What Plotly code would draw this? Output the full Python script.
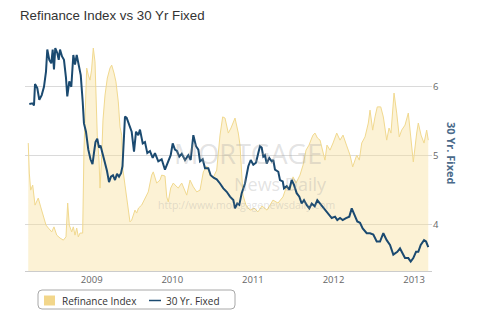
import plotly.graph_objects as go

# ---- data (decimal years) ----
rate_years = [
    2008.226, 2008.268, 2008.284, 2008.297, 2008.325, 2008.350, 2008.380, 2008.408, 2008.433, 2008.449,
    2008.474, 2008.499, 2008.516, 2008.532, 2008.548, 2008.573, 2008.591, 2008.607, 2008.632, 2008.656,
    2008.681, 2008.697, 2008.722, 2008.747, 2008.772, 2008.793, 2008.814, 2008.839, 2008.864, 2008.888,
    2008.904, 2008.929, 2008.958, 2008.985, 2009.010, 2009.029, 2009.047, 2009.069, 2009.091, 2009.109,
    2009.134, 2009.153, 2009.190, 2009.215, 2009.239, 2009.264, 2009.289, 2009.314, 2009.339, 2009.364,
    2009.382, 2009.401, 2009.413, 2009.434, 2009.466, 2009.496, 2009.525, 2009.550, 2009.578, 2009.599,
    2009.633, 2009.661, 2009.690, 2009.723, 2009.757, 2009.785, 2009.826, 2009.868, 2009.909, 2009.950,
    2009.980, 2010.005, 2010.033, 2010.058, 2010.087, 2010.117, 2010.158, 2010.199, 2010.228, 2010.261,
    2010.294, 2010.323, 2010.344, 2010.377, 2010.406, 2010.447, 2010.476, 2010.517, 2010.551, 2010.592,
    2010.633, 2010.675, 2010.716, 2010.757, 2010.778, 2010.806, 2010.831, 2010.861, 2010.902, 2010.943,
    2010.973, 2011.005, 2011.038, 2011.067, 2011.088, 2011.109, 2011.129, 2011.150, 2011.171, 2011.203,
    2011.233, 2011.253, 2011.274, 2011.315, 2011.336, 2011.370, 2011.386, 2011.419, 2011.452, 2011.481,
    2011.510, 2011.543, 2011.576, 2011.605, 2011.634, 2011.667, 2011.700, 2011.730, 2011.767, 2011.799,
    2011.833, 2011.873, 2011.916, 2011.948, 2011.978, 2012.019, 2012.047, 2012.081, 2012.114, 2012.155,
    2012.196, 2012.226, 2012.267, 2012.295, 2012.329, 2012.362, 2012.412, 2012.453, 2012.494, 2012.536,
    2012.577, 2012.618, 2012.660, 2012.701, 2012.742, 2012.792, 2012.825, 2012.859, 2012.887, 2012.928,
    2012.958, 2012.990, 2013.024, 2013.052, 2013.082, 2013.123, 2013.148, 2013.176,
]
rate_values = [
    5.75, 5.76, 5.73, 6.04, 5.98, 5.81, 5.88, 6.00, 6.22, 6.54,
    6.39, 6.34, 6.54, 6.25, 6.56, 6.49, 6.39, 6.54, 6.44, 6.39,
    6.13, 5.86, 6.08, 6.00, 6.46, 6.32, 6.46, 6.29, 6.17, 5.79,
    5.47, 5.35, 5.09, 4.95, 4.88, 5.05, 5.20, 5.25, 5.12, 5.15,
    5.02, 4.95, 4.78, 4.62, 4.70, 4.72, 4.65, 4.74, 4.70, 4.75,
    4.85, 5.20, 5.57, 5.55, 5.43, 5.35, 5.06, 5.35, 5.30, 5.38,
    5.18, 5.20, 5.04, 5.07, 4.97, 5.04, 4.92, 4.95, 4.80, 4.92,
    5.01, 5.18, 5.09, 5.07, 4.99, 5.03, 4.94, 5.01, 4.94, 5.30,
    5.14, 5.09, 4.92, 4.95, 4.82, 4.82, 4.72, 4.68, 4.66, 4.60,
    4.53, 4.48, 4.41, 4.36, 4.24, 4.31, 4.29, 4.46, 4.60, 4.85,
    4.94, 4.87, 4.90, 5.04, 5.14, 5.12, 4.99, 5.01, 4.89, 4.97,
    4.92, 4.94, 4.80, 4.77, 4.65, 4.63, 4.53, 4.56, 4.51, 4.65,
    4.58, 4.46, 4.41, 4.31, 4.36, 4.29, 4.24, 4.31, 4.27, 4.36,
    4.31, 4.24, 4.19, 4.14, 4.10, 4.12, 4.07, 4.10, 4.07, 4.10,
    4.12, 4.24, 4.12, 4.05, 4.03, 3.95, 3.88, 3.88, 3.86, 3.76,
    3.76, 3.88, 3.78, 3.71, 3.57, 3.61, 3.66, 3.57, 3.52, 3.52,
    3.47, 3.52, 3.61, 3.61, 3.71, 3.78, 3.76, 3.68,
]

refi_years = [
    2008.213, 2008.226, 2008.243, 2008.268, 2008.297, 2008.337, 2008.367, 2008.400, 2008.433, 2008.462,
    2008.504, 2008.532, 2008.566, 2008.607, 2008.648, 2008.681, 2008.702, 2008.722, 2008.752, 2008.772,
    2008.793, 2008.814, 2008.834, 2008.855, 2008.888, 2008.904, 2008.923, 2008.938, 2008.958, 2008.979,
    2008.998, 2009.020, 2009.041, 2009.053, 2009.069, 2009.091, 2009.103, 2009.122, 2009.140, 2009.165,
    2009.194, 2009.227, 2009.248, 2009.277, 2009.301, 2009.330, 2009.351, 2009.372, 2009.388, 2009.413,
    2009.438, 2009.454, 2009.475, 2009.496, 2009.512, 2009.537, 2009.558, 2009.581, 2009.620, 2009.661,
    2009.702, 2009.744, 2009.764, 2009.806, 2009.847, 2009.868, 2009.909, 2009.931, 2009.950, 2009.980,
    2010.012, 2010.046, 2010.074, 2010.117, 2010.158, 2010.179, 2010.220, 2010.261, 2010.303, 2010.344,
    2010.385, 2010.427, 2010.468, 2010.505, 2010.551, 2010.592, 2010.625, 2010.654, 2010.695, 2010.728,
    2010.778, 2010.819, 2010.840, 2010.877, 2010.914, 2010.964, 2011.014, 2011.063, 2011.113, 2011.175,
    2011.212, 2011.249, 2011.311, 2011.373, 2011.423, 2011.460, 2011.498, 2011.535, 2011.584, 2011.622,
    2011.659, 2011.696, 2011.730, 2011.746, 2011.770, 2011.801, 2011.833, 2011.870, 2011.894, 2011.919,
    2011.957, 2011.994, 2012.040, 2012.081, 2012.118, 2012.161, 2012.205, 2012.238, 2012.267, 2012.288,
    2012.320, 2012.350, 2012.391, 2012.432, 2012.453, 2012.486, 2012.515, 2012.543, 2012.586, 2012.618,
    2012.660, 2012.689, 2012.713, 2012.751, 2012.784, 2012.816, 2012.846, 2012.887, 2012.928, 2012.958,
    2012.990, 2013.032, 2013.052, 2013.086, 2013.123, 2013.156, 2013.176,
]
refi_values = [
    4350, 3330, 2750, 2920, 2240, 2480, 2180, 1840, 1560, 1460,
    1330, 1500, 1220, 1120, 1050, 1160, 2310, 1560, 1330, 1500,
    1220, 1460, 1160, 1290, 1290, 4110, 6150, 6900, 6660, 6490,
    6830, 7580, 7110, 5750, 4620, 3770, 2820, 3770, 5130, 5980,
    6560, 6900, 7000, 6730, 6430, 5750, 4900, 4620, 3430, 2920,
    2410, 2240, 1670, 1730, 1900, 2070, 1970, 2140, 2240, 2450,
    2690, 3260, 3370, 2990, 3090, 3260, 3230, 2520, 2350, 2820,
    2990, 2890, 2820, 2990, 2750, 2580, 3090, 2860, 2690, 2750,
    3370, 3570, 3260, 3160, 3430, 4620, 5240, 5200, 4690, 4860,
    5200, 4690, 4280, 2580, 2240, 2070, 2140, 2010, 2210, 2070,
    2240, 2410, 2310, 2520, 2920, 2750, 3200, 2990, 3260, 3600,
    4110, 4280, 4520, 4620, 4690, 4520, 4450, 4010, 3770, 4280,
    4110, 4350, 4690, 4450, 4620, 4280, 3940, 3540, 3770, 3940,
    3770, 4350, 4560, 5030, 5470, 4790, 5240, 5580, 5580, 5240,
    4450, 4860, 4690, 6050, 5370, 4560, 4790, 4960, 5370, 4560,
    3710, 4690, 5030, 4620, 4350, 4790, 4450,
]

year_ticks = [2009, 2010, 2011, 2012, 2013]
rate_ticks = [4, 5, 6]

TICK_FONT = dict(family="Open Sans", size=9.5, color="#666666")
NAVY = "#1b4a70"

fig = go.Figure()
# Refinance index on the (hidden) primary axis so it is drawn underneath
fig.add_trace(go.Scatter(
    x=refi_years, y=refi_values, yaxis="y", name="Refinance Index",
    mode="lines", fill="tozeroy",
    line=dict(color="#f1d98f", width=1),
    fillcolor="rgba(248, 222, 150, 0.40)", showlegend=False,
))
# 30 yr fixed on the visible right axis, drawn on top
fig.add_trace(go.Scatter(
    x=rate_years, y=rate_values, yaxis="y2", name="30 Yr. Fixed", mode="lines",
    line=dict(color=NAVY, width=2), showlegend=False,
))

# legend geometry helpers (paper coords)
def px_x(p):
    return (p - 25) / 407.0

def px_y(p):
    return (271 - p) / 236.0

x0, x1, top, bot = px_x(38), px_x(235), px_y(290), px_y(309)
rx, ry = 4 / 407.0, 4 / 236.0
box_path = (f"M{x0+rx},{top} L{x1-rx},{top} Q{x1},{top} {x1},{top-ry} "
            f"L{x1},{bot+ry} Q{x1},{bot} {x1-rx},{bot} L{x0+rx},{bot} "
            f"Q{x0},{bot} {x0},{bot+ry} L{x0},{top-ry} Q{x0},{top} {x0+rx},{top} Z")

shapes = [
    dict(type="path", xref="paper", yref="paper", path=box_path,
         line=dict(color="#a8a8a8", width=1), fillcolor="rgba(0,0,0,0)"),
    dict(type="rect", xref="paper", yref="paper",
         x0=px_x(44), x1=px_x(55), y0=px_y(305.5), y1=px_y(295.5),
         line=dict(width=0), fillcolor="#f2d68a"),
    dict(type="line", xref="paper", yref="paper",
         x0=px_x(149), x1=px_x(161), y0=px_y(300.5), y1=px_y(300.5),
         line=dict(color=NAVY, width=1.5)),
]

WM = "rgba(160,160,160,0.30)"
annotations = [
    dict(text="Refinance Index", xref="paper", yref="paper", x=px_x(60), y=px_y(300.5),
         xanchor="left", yanchor="middle", showarrow=False,
         font=dict(family="Open Sans", size=10, color="#333333")),
    dict(text="30 Yr. Fixed", xref="paper", yref="paper", x=px_x(164), y=px_y(300.5),
         xanchor="left", yanchor="middle", showarrow=False,
         font=dict(family="Open Sans", size=10, color="#333333")),
    dict(text="<b>30 Yr. Fixed</b>", xref="paper", yref="paper", x=px_x(452), y=px_y(153),
         xanchor="center", yanchor="middle", showarrow=False, textangle=90,
         font=dict(family="Open Sans", size=11, color="#4a6a8a")),
    dict(text="MORTGAGE", xref="paper", yref="paper", x=px_x(248), y=px_y(153),
         xanchor="center", yanchor="middle", showarrow=False,
         font=dict(family="Open Sans", size=27, color=WM)),
    dict(text="News Daily", xref="paper", yref="paper", x=px_x(280), y=px_y(184),
         xanchor="center", yanchor="middle", showarrow=False,
         font=dict(family="Open Sans", size=18, color=WM)),
    dict(text="http://www.mortgagenewsdaily.com", xref="paper", yref="paper",
         x=px_x(246), y=px_y(205), xanchor="center", yanchor="middle", showarrow=False,
         font=dict(family="Open Sans", size=10.5, color=WM)),
]

fig.update_layout(
    width=480, height=325,
    margin=dict(l=25, r=48, t=35, b=54),
    paper_bgcolor="white", plot_bgcolor="white",
    title=dict(text="Refinance Index vs 30 Yr Fixed", x=20 / 480, xanchor="left",
               y=1 - 15 / 325, yanchor="middle",
               font=dict(family="Liberation Sans", size=13.3, color="#333333")),
    xaxis=dict(range=[2008.1725, 2013.222], tickvals=year_ticks,
               ticktext=[str(y) for y in year_ticks], showgrid=False,
               showline=True, linecolor="#cccccc", linewidth=1, ticks="",
               zeroline=False, tickfont=TICK_FONT),
    yaxis=dict(range=[0, 8024], visible=False, showgrid=False),
    yaxis2=dict(overlaying="y", side="right", range=[3.333, 6.75], tickvals=rate_ticks,
                ticktext=[str(v) for v in rate_ticks], showgrid=True,
                gridcolor="#dadada", gridwidth=1, zeroline=False, showline=False,
                ticks="", tickfont=TICK_FONT),
    shapes=shapes, annotations=annotations,
    showlegend=False,
)

fig.write_html("out.html")
